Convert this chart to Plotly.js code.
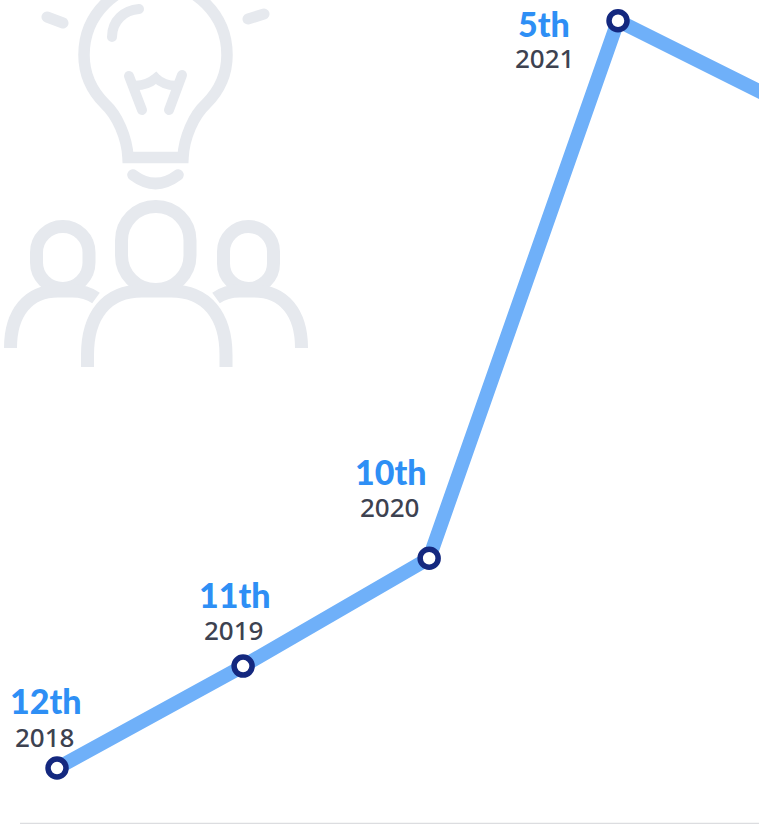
<!DOCTYPE html>
<html>
<head>
<meta charset="utf-8">
<script src="https://cdn.plot.ly/plotly-3.0.1.min.js"></script>
<style>html,body{margin:0;padding:0;background:#fff}#c{width:759px;height:824px}</style>
</head>
<body>
<div id="c"></div>
<script>
// Values
const years = [2018, 2018.995, 2019.99, 2021, 2021.995];
const rankPositions = [12, 11.045, 10.035, 5, 5.87];
const yearLabels = ['2018', '2019', '2020', '2021'];
const rankLabels = ['12th', '11th', '10th', '5th'];
const rankLabelShiftX = [-11, -8, -38, -74];
const rankLabelShiftY = [68, 72, 87, -3];
const yearLabelShiftX = [-12, -9, -39, -73];
const yearLabelShiftY = [31, 36, 51, -37];

const lineColor = '#6fb0f9';
const markerColor = '#14287f';
const rankColor = '#2e8ff5';
const yearColor = '#3d4250';
const iconColor = '#e6e9ee';

const iconSvg = `<svg xmlns="http://www.w3.org/2000/svg" width="759" height="824" viewBox="0 0 759 824">
<g fill="none" stroke="${iconColor}" stroke-linecap="round" stroke-linejoin="miter">
<path stroke-width="11.5" stroke-linecap="butt" d="M128,157.5 C127,137 117,115 105,104 C92,91 84,75 84,55 C84,15 116,-17 155.5,-17 C195,-17 227,15 227,55 C227,75 219,91 206,104 C194,115 184,137 183,157.5 Z"/>
<path stroke-width="10" d="M139,9 C124,10 112,21 112,37"/>
<path stroke-width="11" d="M47,17 L63,23 M248,19 L264,14"/>
<path stroke-width="10" d="M129,76 L142,110 M182,75 L169,110"/>
<path stroke-width="9.5" stroke-linecap="butt" d="M134,85.5 C143,86 150,83 156,78 C161,83 168,86 178,85.5"/>
<path stroke-width="11.5" d="M133,175 Q155.5,192 178,175"/>
<g stroke-width="13" stroke-linecap="butt">
<rect x="121.5" y="206.5" width="68.5" height="83" rx="34" ry="34"/>
<path d="M87.5,367 L87.5,355 C87.5,316 106,291 142,291 L171,291 C207,291 226,316 226,355 L226,367"/>
<rect x="36.5" y="226.5" width="52.5" height="62" rx="26" ry="26"/>
<path d="M10.5,348 C10.5,313 28,291 58,291 L72,291 C80,291 89,293 96,298"/>
<rect x="223.5" y="226.5" width="50" height="62" rx="25" ry="25"/>
<path d="M301.5,348 C301.5,313 284,291 254,291 L240,291 C232,291 223,293 216,298"/>
</g>
</g>
</svg>`;

const annotations = [];
yearLabels.forEach((label, i) => {
  annotations.push({
    x: years[i], y: rankPositions[i], xref: 'x', yref: 'y', showarrow: false,
    text: rankLabels[i], xshift: rankLabelShiftX[i], yshift: rankLabelShiftY[i],
    font: {family: 'Lato, sans-serif', size: 34, color: rankColor, weight: 900}
  });
  annotations.push({
    x: years[i], y: rankPositions[i], xref: 'x', yref: 'y', showarrow: false,
    text: label, xshift: yearLabelShiftX[i], yshift: yearLabelShiftY[i],
    font: {family: '"Noto Sans", sans-serif', size: 26, color: yearColor, weight: 500}
  });
});

Plotly.newPlot('c', [{
  x: years, y: rankPositions, mode: 'lines+markers', type: 'scatter',
  line: {color: lineColor, width: 14},
  marker: {size: 18, color: '#ffffff', line: {color: markerColor, width: 5.5}},
  hoverinfo: 'skip', showlegend: false
}], {
  width: 759, height: 824,
  margin: {l: 0, r: 0, t: 0, b: 0},
  paper_bgcolor: '#ffffff', plot_bgcolor: 'rgba(0,0,0,0)',
  xaxis: {range: [2017.695, 2021.754], visible: false, fixedrange: true},
  yaxis: {range: [12.524, 4.806], visible: false, fixedrange: true},
  annotations: annotations,
  images: [{
    source: 'data:image/svg+xml;charset=utf-8,' + encodeURIComponent(iconSvg),
    xref: 'paper', yref: 'paper', x: 0, y: 1, sizex: 1, sizey: 1,
    xanchor: 'left', yanchor: 'top', sizing: 'stretch', layer: 'below'
  }],
  shapes: [{
    type: 'line', xref: 'paper', yref: 'paper',
    x0: 20 / 759, x1: 1, y0: 0.6 / 824, y1: 0.6 / 824,
    line: {color: '#dcdde0', width: 1.2}
  }]
}, {displayModeBar: false, staticPlot: true});
</script>
</body>
</html>
